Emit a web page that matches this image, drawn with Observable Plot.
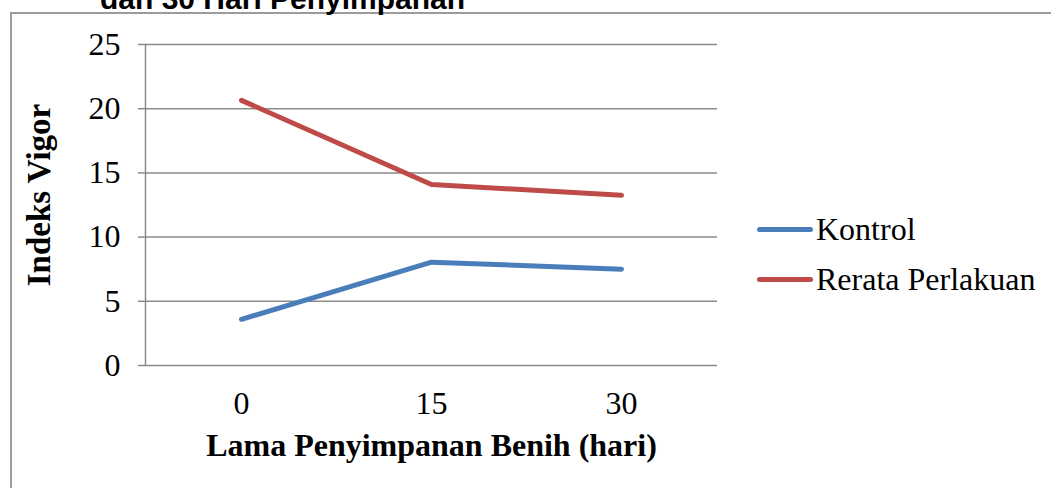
<!DOCTYPE html>
<html>
<head>
<meta charset="utf-8">
<script src="https://cdn.jsdelivr.net/npm/d3@7"></script>
<script src="https://cdn.jsdelivr.net/npm/@observablehq/plot@0.6"></script>
<style>
  html, body { margin: 0; padding: 0; background: #fff; }
  #wrap { position: relative; width: 1051px; height: 488px; overflow: hidden; background: #fff; }
  #frame { position: absolute; left: 10px; top: 12px; width: 1200px; height: 700px; border: 2px solid #9c9c9c; box-sizing: border-box; }
  #title { position: absolute; left: 100px; top: -16px; font-family: "Liberation Sans", Arial, sans-serif; font-weight: bold; font-size: 30px; line-height: 30px; white-space: nowrap; color: #000; }
  #chart { position: absolute; left: 0; top: 0; }
  .leg { position: absolute; left: 757px; display: flex; align-items: center; font-family: "Liberation Serif", "Times New Roman", serif; font-size: 32px; color: #000; white-space: nowrap; }
  .leg .sw { width: 56px; height: 5px; border-radius: 3px; margin-right: 3px; }
</style>
</head>
<body>
<div id="wrap">
  <div id="frame"></div>
  <div id="title">dan 30 Hari Penyimpanan</div>
  <div id="chart"></div>
</div>
<script>
// ---- data ----
const days = ["0", "15", "30"];
const seriesNames = ["Kontrol", "Rerata Perlakuan"];
const kontrol = [3.6, 8.05, 7.5];
const rerataPerlakuan = [20.65, 14.1, 13.25];
const yTicks = [0, 5, 10, 15, 20, 25];
const seriesColors = ["#4A7EBB", "#BE4B48"];
const xTitle = "Lama Penyimpanan Benih (hari)";
const yTitle = "Indeks Vigor";

const rows = [];
days.forEach((d, i) => {
  rows.push({day: d, value: kontrol[i], series: seriesNames[0]});
  rows.push({day: d, value: rerataPerlakuan[i], series: seriesNames[1]});
});

const grid = "#8a8a8a";
const chart = Plot.plot({
  width: 1051,
  height: 488,
  marginLeft: 145,
  marginRight: 334,
  marginTop: 44,
  marginBottom: 123,
  style: {fontFamily: "'Liberation Serif', 'Times New Roman', serif", fontSize: "32px", color: "#000", background: "transparent", overflow: "visible"},
  x: {type: "point", domain: days, padding: 0.5, label: null},
  y: {domain: [0, 25], label: null},
  color: {domain: seriesNames, range: seriesColors},
  marks: [
    Plot.ruleY(yTicks, {stroke: grid, strokeWidth: 1.5}),
    Plot.frame({anchor: "left", stroke: grid, strokeWidth: 1.5}),
    Plot.axisY({ticks: yTicks, tickSize: 7, tickPadding: 18, stroke: grid, strokeWidth: 1.5, label: null, fontSize: 32}),
    Plot.axisX({tickSize: 0, tickPadding: 26, label: null, fontSize: 32}),
    Plot.line(rows, {x: "day", y: "value", stroke: "series", z: "series", strokeWidth: 5, strokeLinecap: "round", strokeLinejoin: "round"}),
    Plot.text([yTitle], {frameAnchor: "left", textAnchor: "middle", lineAnchor: "middle", rotate: -90, dx: -106, dy: -10, fontWeight: "bold", fontSize: 33}),
    Plot.text([xTitle], {frameAnchor: "bottom", textAnchor: "middle", lineAnchor: "bottom", dy: 90, fontWeight: "bold", fontSize: 32})
  ]
});
document.getElementById("chart").appendChild(chart);

// legend
const wrap = document.getElementById("wrap");
const legTops = [229, 279];
seriesNames.forEach((name, i) => {
  const el = document.createElement("div");
  el.className = "leg";
  el.style.top = (legTops[i] - 18) + "px";
  el.style.height = "36px";
  const sw = document.createElement("span");
  sw.className = "sw";
  sw.style.background = seriesColors[i];
  const tx = document.createElement("span");
  tx.textContent = name;
  el.appendChild(sw);
  el.appendChild(tx);
  wrap.appendChild(el);
});
</script>
</body>
</html>
